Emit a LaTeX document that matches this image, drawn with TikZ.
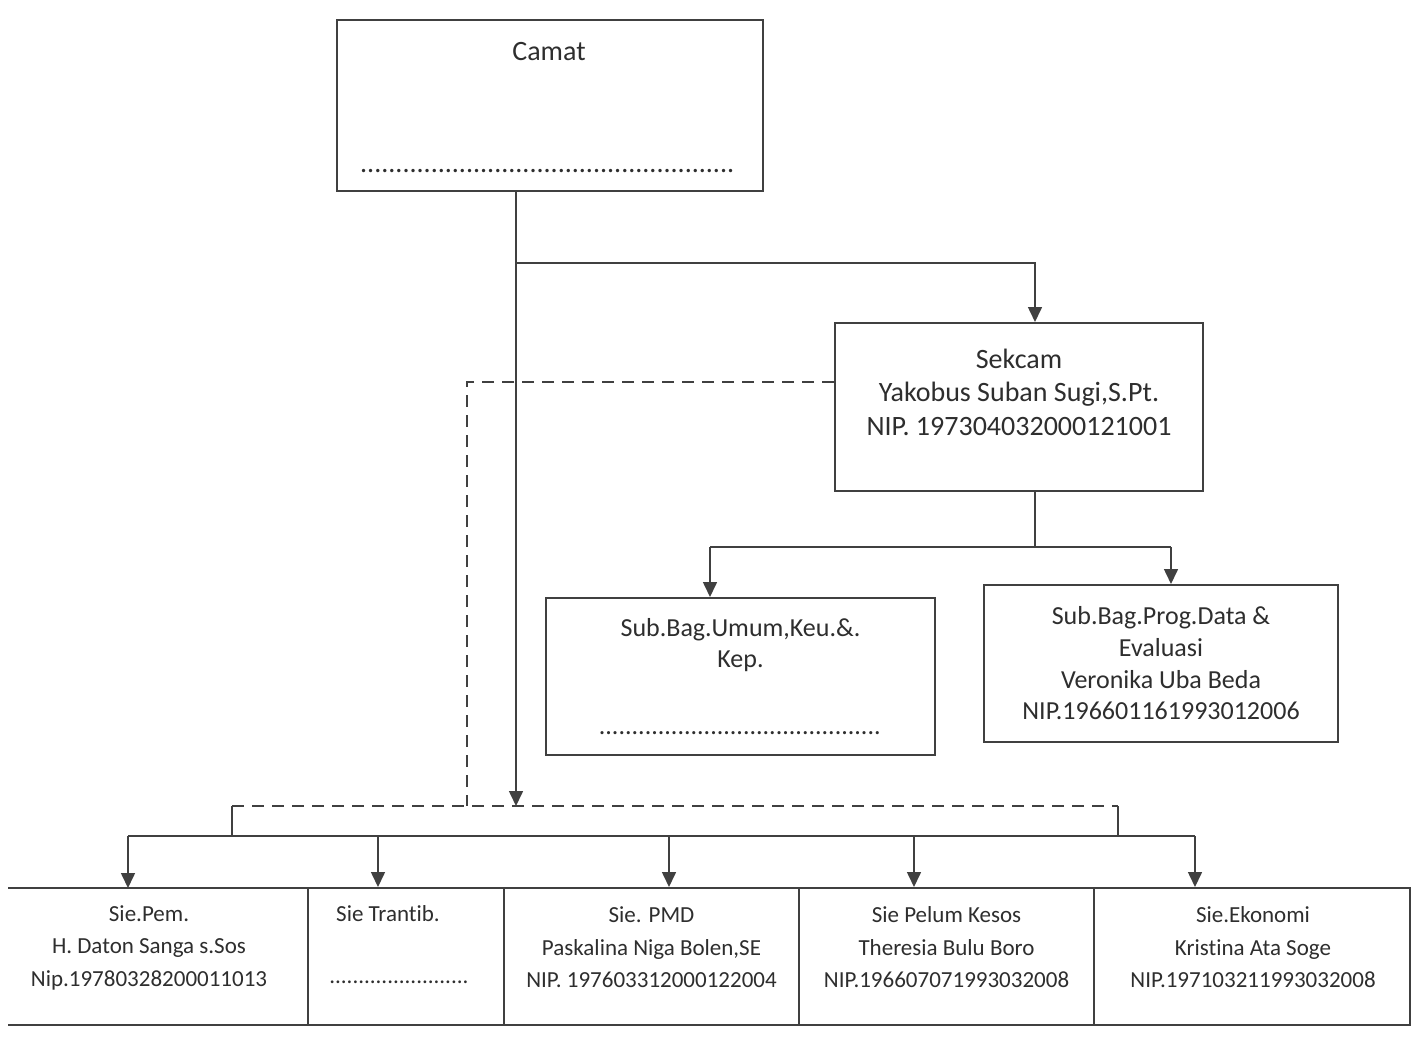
\documentclass[tikz,border=0pt]{standalone}
\usepackage{fontspec}
\setmainfont{Carlito}[Ligatures=NoCommon]
\usetikzlibrary{arrows.meta}
\definecolor{ink}{HTML}{2E2E2E}
\definecolor{edge}{HTML}{404040}
\begin{document}
\begin{tikzpicture}[x=1pt,y=-1pt,
  box/.style={draw=edge, line width=2pt, rectangle, inner sep=0pt},
  cell/.style={box, minimum height=137pt},
  txt/.style={text=ink, align=center, inner sep=0pt},
  conn/.style={draw=edge, line width=1.6pt},
  arr/.style={conn, -{Triangle[length=15pt,width=14pt]}},
  dashline/.style={draw=edge, line width=1.6pt, dash pattern=on 12pt off 8pt},
  big/.style={font=\fontsize{28}{34}\selectfont},
  mid/.style={font=\fontsize{26}{31.7}\selectfont},
  small/.style={font=\fontsize{23}{32.5}\selectfont}]
\useasboundingbox[fill=white] (0,0) rectangle (1414,1041);

% Camat
\node[box, minimum width=426pt, minimum height=171pt] (camat) at (550,105.5) {};
\node[txt, big] (camatt) at (549,52) {Camat};
\node[txt, big, anchor=base] (camatd) at (547.5,172) {.....................................................};

% Sekcam
\node[box, minimum width=368pt, minimum height=168pt] (sekcam) at (1019,407) {};
\node[txt, big, font=\fontsize{28}{33.5}\selectfont] (sekcamt) at (1019,392) {Sekcam\\Yakobus Suban Sugi,S.Pt.\\NIP. 197304032000121001};

% Sub bagian
\node[box, minimum width=389pt, minimum height=157pt] (umum) at (740.5,676.5) {};
\node[txt, mid, font=\fontsize{26}{31}\selectfont] (umumt) at (740.5,645.5) {Sub.Bag.Umum,Keu.\&.\\Kep.};
\node[txt, mid, anchor=base] (umumd) at (740,734) {...........................................};

\node[box, minimum width=354pt, minimum height=157pt] (prog) at (1161,663.5) {};
\node[txt, mid] (progt) at (1161,663.5) {Sub.Bag.Prog.Data \&\\Evaluasi\\Veronika Uba Beda\\NIP.196601161993012006};

% Bottom row
\node[cell, draw=none, outer sep=0pt, minimum width=300pt] (pem) at (158,956.5) {};
\draw[box] (pem.north west) -- (pem.north east);
\draw[box] (pem.south west) -- (pem.south east);
\node[cell, minimum width=196pt] (trantib) at (406,956.5) {};
\node[cell, minimum width=295pt] (pmd) at (651.5,956.5) {};
\node[cell, minimum width=295pt] (pelum) at (946.5,956.5) {};
\node[cell, minimum width=316pt] (ekonomi) at (1252,956.5) {};

\node[txt, small] (pemt) at (149,947.5) {Sie.Pem.\\H. Daton Sanga s.Sos\\Nip.19780328200011013};
\node[txt, small] (trantibt) at (388,914) {Sie Trantib.};
\node[txt, small, anchor=base] (trantibd) at (399,983) {........................};
\node[txt, small] (pmdt) at (651.5,947.5) {Sie. PMD\\Paskalina Niga Bolen,SE\\NIP. 197603312000122004};
\node[txt, small] (pelumt) at (946.5,947.5) {Sie Pelum Kesos\\Theresia Bulu Boro\\NIP.196607071993032008};
\node[txt, small] (ekonomit) at (1253,947.5) {Sie.Ekonomi\\Kristina Ata Soge\\NIP.197103211993032008};

% Connectors from Camat
\coordinate (j1) at (516,263);
\coordinate (camattip) at (516,806);
\draw[conn] (camat.south -| j1) -- (j1);
\draw[arr] (j1) -- (camattip);
\draw[arr] (j1) -| ([xshift=16pt]sekcam.north);

% Sekcam dashed line to sections
\coordinate (dM) at (467,806);
\coordinate (dL) at (232,806);
\coordinate (dR) at (1118,806);
\coordinate (bL) at (128,836);
\coordinate (bR) at (1195,836);
\draw[dashline] ([yshift=25pt]sekcam.west) -| (dM);
\draw[dashline] (dL) -- (dR);
\draw[conn] (dL) -- (dL |- bL);
\draw[conn] (dR) -- (dR |- bL);

% Section bus
\draw[conn] (bL) -- (bR);
\coordinate (a1) at (128,836);
\coordinate (a2) at (378,836);
\coordinate (a3) at (669,836);
\coordinate (a4) at (914,836);
\coordinate (a5) at (1195,836);
\draw[arr] (a1) -- (pem.north -| a1);
\draw[arr] (a2) -- (trantib.north -| a2);
\draw[arr] (a3) -- (pmd.north -| a3);
\draw[arr] (a4) -- (pelum.north -| a4);
\draw[arr] (a5) -- (ekonomi.north -| a5);

% Sekcam to sub bagian
\coordinate (s0) at (1035,547);
\coordinate (s1) at (710,547);
\coordinate (s2) at (1171,547);
\draw[conn] (sekcam.south -| s0) -- (s0);
\draw[conn] (s1) -- (s2);
\draw[arr] (s1) -- (umum.north -| s1);
\draw[arr] (s2) -- (prog.north -| s2);
\end{tikzpicture}
\end{document}
